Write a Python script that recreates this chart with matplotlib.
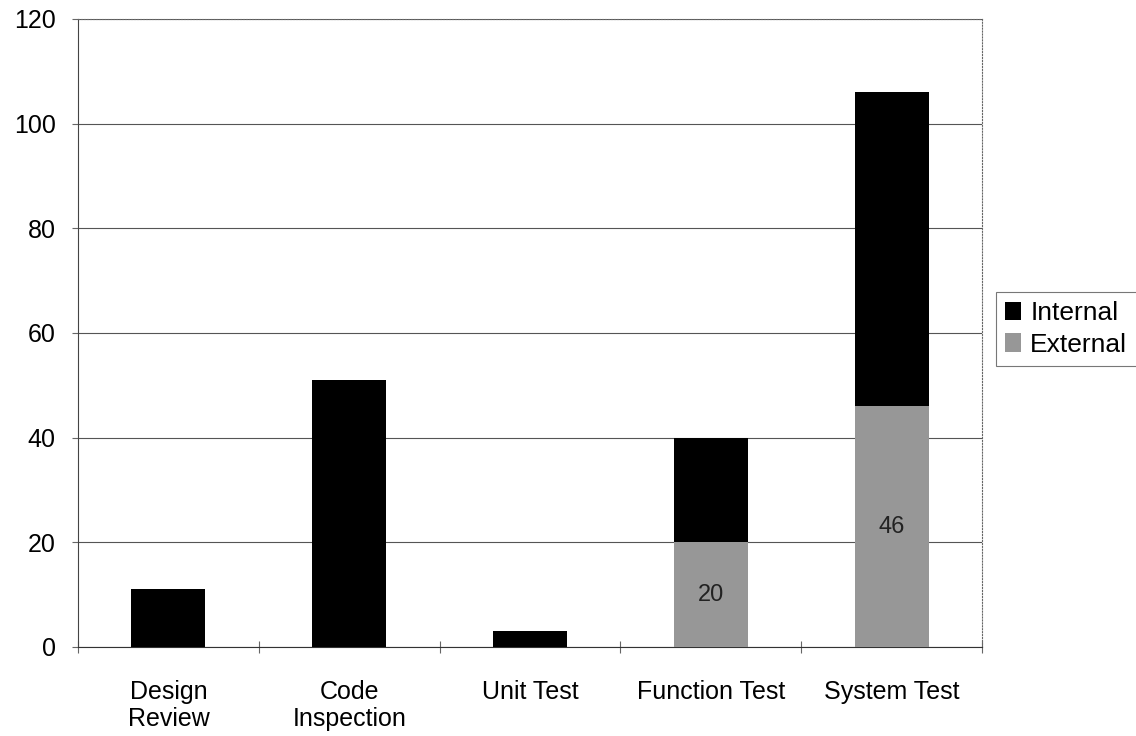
import numpy as np
import matplotlib.pyplot as plt

categories = ['Design\nReview', 'Code\nInspection', 'Unit Test', 'Function Test', 'System Test']
internal = [11, 51, 3, 20, 60]
external = [0, 0, 0, 20, 46]
ext_labels = ['', '', '', '20', '46']

plt.rcParams['font.family'] = ['Liberation Sans', 'DejaVu Sans']

fig = plt.figure(figsize=(11.36, 7.36), dpi=100)
ax = fig.add_axes([78 / 1136, 1 - 647 / 736, (982 - 78) / 1136, (647 - 19) / 736])

x = np.arange(len(categories))
width = 0.41
ax.bar(x, external, width, color='#979797', label='External', zorder=3)
ax.bar(x, internal, width, bottom=external, color='black', label='Internal', zorder=3)

for xi, e, lab in zip(x, external, ext_labels):
    if lab:
        ax.text(xi, e / 2, lab, ha='center', va='center', fontsize=17, color='#222222', zorder=4)

ax.set_xlim(-0.5, len(categories) - 0.5)
ax.set_ylim(0, 120)
ax.set_yticks(range(0, 121, 20))
ax.yaxis.grid(True, color='#555555', linewidth=0.8, zorder=0)

ax.set_xticks(x)
ax.set_xticklabels(categories, fontsize=18, linespacing=1.15)
ax.set_xticks(np.arange(-0.5, len(categories), 1.0), minor=True)
ax.tick_params(axis='x', which='major', length=0, pad=24)
ax.tick_params(axis='x', which='minor', length=8, width=0.8, color='#666666', direction='inout')
ax.tick_params(axis='y', labelsize=18, length=4, width=0.8, color='#666666', pad=12)

for side in ['top', 'right']:
    ax.spines[side].set_linestyle(':')
    ax.spines[side].set_color('#666666')
ax.spines['left'].set_color('#444444')
ax.spines['bottom'].set_color('#333333')

handles, labels = ax.get_legend_handles_labels()
leg = fig.legend(handles[::-1], labels[::-1], loc='center left',
                 bbox_to_anchor=(996 / 1136, 1 - 329 / 736), fontsize=19,
                 frameon=True, fancybox=False, edgecolor='#555555',
                 handlelength=0.6, handleheight=0.7, handletextpad=0.35,
                 borderpad=0.35, labelspacing=0.3, borderaxespad=0)
leg.get_frame().set_linewidth(0.8)

fig.savefig('out.png', dpi=100)
